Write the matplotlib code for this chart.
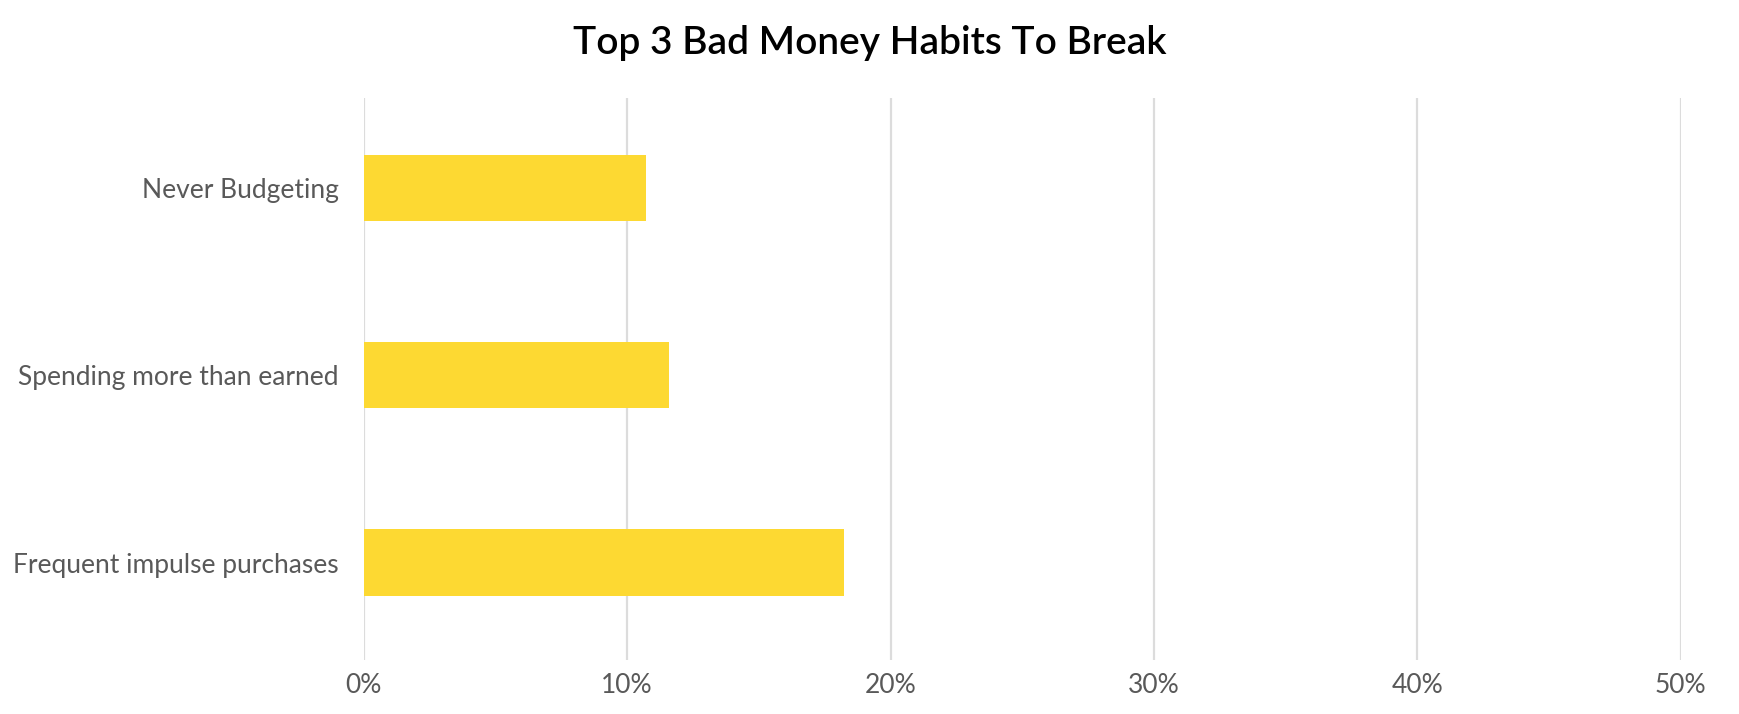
import matplotlib
matplotlib.use("Agg")
import matplotlib.pyplot as plt
from matplotlib.ticker import PercentFormatter

# data
habits = ["Never Budgeting", "Spending more than earned", "Frequent impulse purchases"]
shares = [10.7, 11.6, 18.25]
x_ticks = [0, 10, 20, 30, 40, 50]

plt.rcParams['font.family'] = ['Lato', 'DejaVu Sans']

fig = plt.figure(figsize=(17.39, 7.14), dpi=100)
ax = fig.add_axes([0.2092, 0.0756, 0.7573, 0.7874])

pos = list(range(len(habits)))
ax.barh(pos, shares, height=0.355, color='#FDD932', zorder=2)

ax.set_xlim(0, 50)
ax.set_ylim(2.52, -0.48)
ax.set_yticks(pos)
ax.set_yticklabels(habits)
ax.set_xticks(x_ticks)
ax.xaxis.set_major_formatter(PercentFormatter(decimals=0))

ax.grid(axis='x', color='#dcdcdc', linewidth=1.6, zorder=0)
for s in ax.spines.values():
    s.set_visible(False)
ax.tick_params(axis='both', length=0, labelsize=19, labelcolor='#595959')
ax.tick_params(axis='x', pad=9)
ax.tick_params(axis='y', pad=18)

fig.text(0.5, 0.94, "Top 3 Bad Money Habits To Break", ha='center', va='center',
         fontsize=28, fontweight='semibold', color='black')

fig.savefig("out.png", dpi=100)
